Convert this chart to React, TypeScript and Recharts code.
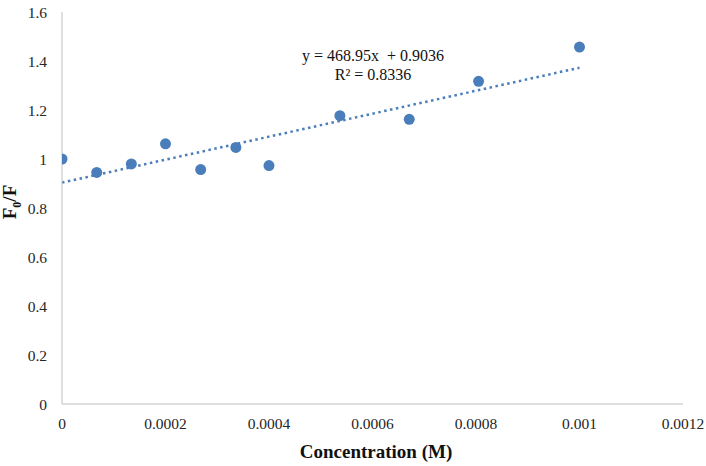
import React from "react";
import { ComposedChart, Scatter, XAxis, YAxis, ReferenceLine } from "recharts";

const concentrations = [0, 0.0000671, 0.000134, 0.0002, 0.000268, 0.000336, 0.0004, 0.000537, 0.000671, 0.000805, 0.001];
const ratios = [1.0, 0.945, 0.98, 1.062, 0.957, 1.047, 0.973, 1.177, 1.162, 1.317, 1.457];
const xTicks = [0, 0.0002, 0.0004, 0.0006, 0.0008, 0.001, 0.0012];
const yTicks = [0, 0.2, 0.4, 0.6, 0.8, 1, 1.2, 1.4, 1.6];
const trendSlope = 468.95;
const trendIntercept = 0.9036;
const trendStart = 0;
const trendEnd = 0.001;
const equationText = "y = 468.95x  + 0.9036";
const r2Text = "R\u00B2 = 0.8336";

const data = concentrations.map((c, i) => ({ x: c, y: ratios[i] }));

const BLUE = "#4a7ebb";
const FONT = "Liberation Serif";

export default function App() {
  return (
    <div style={{ position: "absolute", left: 0, top: 0, width: 706, height: 466, background: "#fff", fontFamily: FONT }}>
      <ComposedChart width={706} height={466} margin={{ top: 12, right: 23, bottom: 0, left: 0 }} style={{ fontFamily: FONT }}>
        <XAxis
          type="number"
          dataKey="x"
          domain={[0, 0.0012]}
          ticks={xTicks}
          tickFormatter={(v) => String(v)}
          axisLine={{ stroke: "#bfbfbf", strokeWidth: 1 }}
          tickLine={false}
          tickSize={0}
          tickMargin={14}
          height={62}
          tick={{ fill: "#262626", fontSize: 15.5, fontFamily: FONT }}
          allowDataOverflow
        />
        <YAxis
          type="number"
          dataKey="y"
          domain={[0, 1.6]}
          ticks={yTicks}
          tickFormatter={(v) => String(v)}
          axisLine={{ stroke: "#bfbfbf", strokeWidth: 1 }}
          tickLine={false}
          tickSize={0}
          tickMargin={15}
          width={62}
          tick={{ fill: "#262626", fontSize: 15.5, fontFamily: FONT }}
        />
        <ReferenceLine
          segment={[
            { x: trendStart, y: trendIntercept + trendSlope * trendStart },
            { x: trendEnd, y: trendIntercept + trendSlope * trendEnd },
          ]}
          stroke={BLUE}
          strokeWidth={2.5}
          strokeDasharray="2.5 3.5"
          ifOverflow="visible"
        />
        <Scatter
          data={data}
          fill={BLUE}
          isAnimationActive={false}
          shape={(props: any) => <circle cx={props.cx} cy={props.cy} r={5.5} fill={BLUE} />}
        />
      </ComposedChart>
      <div style={{ position: "absolute", left: 273, top: 46, width: 200, textAlign: "center", fontSize: 16, color: "#111", lineHeight: "19px", whiteSpace: "pre" }}>
        <div>{equationText}</div>
        <div>{r2Text}</div>
      </div>
      <div style={{ position: "absolute", left: 276, top: 441, width: 200, textAlign: "center", fontSize: 19, fontWeight: "bold", color: "#111" }}>
        Concentration (M)
      </div>
      <div style={{ position: "absolute", left: 12, top: 202, width: 0, height: 0 }}>
        <div style={{ position: "absolute", transform: "translate(-50%, -50%) rotate(-90deg)", fontSize: 19, fontWeight: "bold", color: "#111", whiteSpace: "nowrap" }}>
          F<sub style={{ fontSize: 12 }}>0</sub>/F
        </div>
      </div>
    </div>
  );
}
